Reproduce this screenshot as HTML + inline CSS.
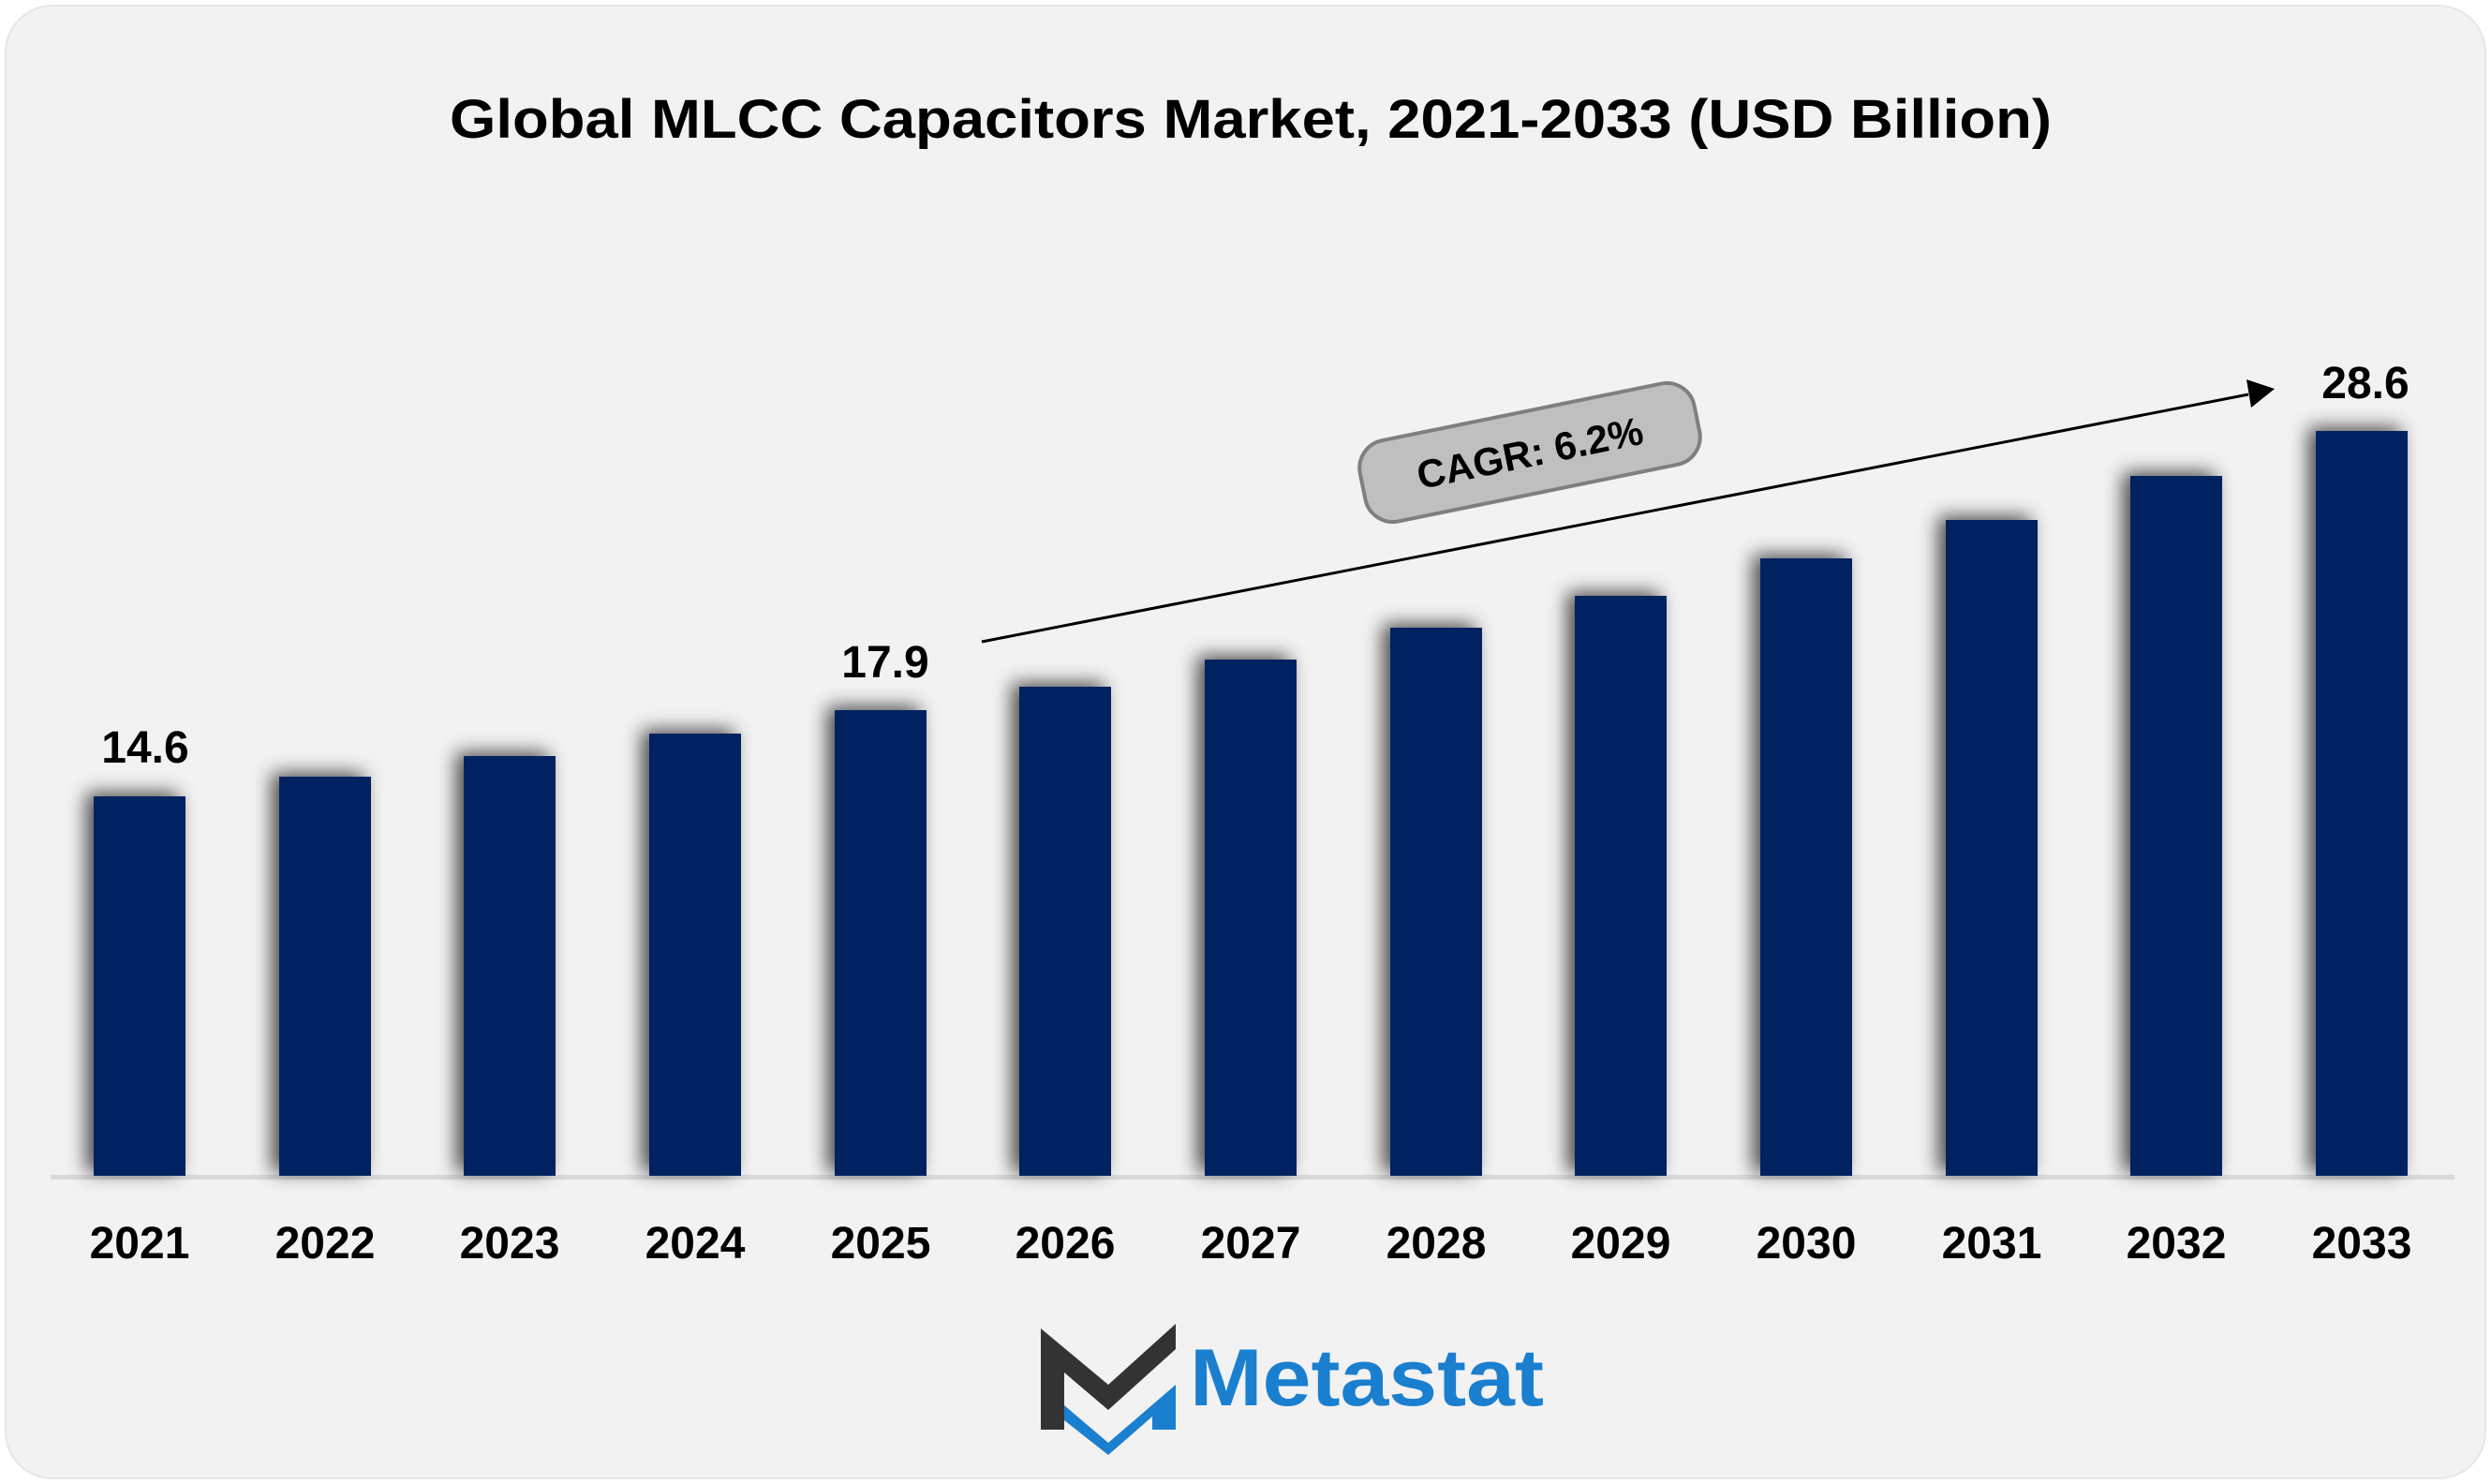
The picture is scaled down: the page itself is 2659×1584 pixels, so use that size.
<!DOCTYPE html>
<html><head><meta charset="utf-8"><style>
html,body{margin:0;padding:0;background:#fff;}
svg{display:block;}
</style></head><body>
<svg width="2659" height="1584" viewBox="0 0 2659 1584" xmlns="http://www.w3.org/2000/svg">
<defs>
<filter id="sh" x="-50%" y="-20%" width="200%" height="140%">
<feGaussianBlur in="SourceAlpha" stdDeviation="10"/>
<feOffset dx="-8" dy="-4"/>
<feComponentTransfer><feFuncA type="linear" slope="0.7"/></feComponentTransfer>
<feMerge><feMergeNode/><feMergeNode in="SourceGraphic"/></feMerge>
</filter>
</defs>
<rect x="6" y="6" width="2647" height="1572" rx="50" fill="#f2f2f2" stroke="#e6e6e6" stroke-width="2"/>
<text x="1335" y="147" text-anchor="middle" font-family="Liberation Sans, sans-serif" font-weight="bold" font-size="58" textLength="1710" lengthAdjust="spacingAndGlyphs" fill="#000">Global MLCC Capacitors Market, 2021-2033 (USD Billion)</text>
<rect x="54" y="1254" width="2566" height="5" fill="#d9d9d9"/>
<g fill="#002060" filter="url(#sh)">
<rect x="100" y="850" width="98" height="405"/>
<rect x="298" y="829" width="98" height="426"/>
<rect x="495" y="807" width="98" height="448"/>
<rect x="693" y="783" width="98" height="472"/>
<rect x="891" y="758" width="98" height="497"/>
<rect x="1088" y="733" width="98" height="522"/>
<rect x="1286" y="704" width="98" height="551"/>
<rect x="1484" y="670" width="98" height="585"/>
<rect x="1681" y="636" width="98" height="619"/>
<rect x="1879" y="596" width="98" height="659"/>
<rect x="2077" y="555" width="98" height="700"/>
<rect x="2274" y="508" width="98" height="747"/>
<rect x="2472" y="460" width="98" height="795"/>
</g>
<g font-family="Liberation Sans, sans-serif" font-weight="bold" font-size="48" text-anchor="middle" fill="#000">
<text x="149" y="1343">2021</text><text x="347" y="1343">2022</text><text x="544" y="1343">2023</text>
<text x="742" y="1343">2024</text><text x="940" y="1343">2025</text><text x="1137" y="1343">2026</text>
<text x="1335" y="1343">2027</text><text x="1533" y="1343">2028</text><text x="1730" y="1343">2029</text>
<text x="1928" y="1343">2030</text><text x="2126" y="1343">2031</text><text x="2323" y="1343">2032</text>
<text x="2521" y="1343">2033</text>
<text x="155" y="814" font-size="48">14.6</text>
<text x="945" y="723" font-size="48">17.9</text>
<text x="2525" y="425" font-size="48">28.6</text>
</g>
<line x1="1048" y1="685" x2="2400" y2="421" stroke="#000" stroke-width="3"/>
<polygon points="2428,415 2398,405 2403,435" fill="#000"/>
<g transform="translate(1633,483) rotate(-11.5)">
<rect x="-182" y="-44" width="364" height="88" rx="30" fill="#bfbfbf" stroke="#7f7f7f" stroke-width="4"/>
<text x="0" y="15" text-anchor="middle" font-family="Liberation Sans, sans-serif" font-weight="bold" font-size="42" fill="#000">CAGR: 6.2%</text>
</g>
<g>
<polygon points="1111,1526 1111,1418 1183,1478 1255,1413 1255,1440 1183,1505 1136,1465 1136,1526" fill="#333"/>
<polygon points="1136,1500 1183,1540 1255,1478 1255,1526 1230,1526 1230,1512 1183,1553 1136,1516" fill="#1b7fd0"/>
<text x="1270" y="1500" font-family="Liberation Sans, sans-serif" font-weight="bold" font-size="86" textLength="378" lengthAdjust="spacingAndGlyphs" fill="#1b7fd0">Metastat</text>
</g>
</svg>
</body></html>
